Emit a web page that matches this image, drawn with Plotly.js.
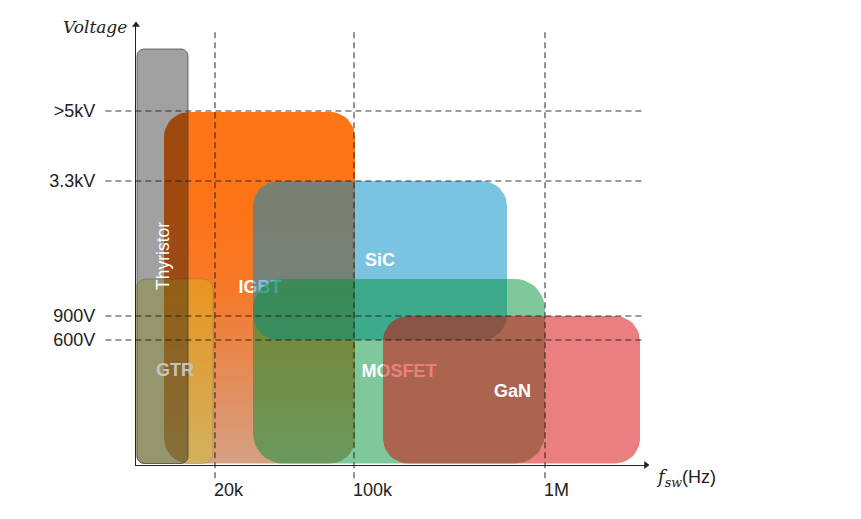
<!DOCTYPE html>
<html>
<head>
<meta charset="utf-8">
<script src="https://cdn.plot.ly/plotly-3.0.1.min.js"></script>
<style>html,body{margin:0;padding:0;background:#fff;}#chart{width:861px;height:519px;}</style>
</head>
<body>
<div id="chart"></div>
<script>
// ---- data (schematic units: switching-frequency position, voltage position) ----
const devices   = ['IGBT', 'GTR', 'Thyristor', 'SiC', 'MOSFET', 'GaN'];
const freqFrom  = [2.8, 0.0, 0.1, 11.7, 11.7, 24.7];
const freqTo    = [21.9, 7.7, 5.2, 37.1, 40.9, 50.4];
const voltFrom  = [0.15, 0.15, 0.15, 12.5, 0.15, 0.15];
const voltTo    = [35.3, 18.6, 41.6, 28.4, 18.6, 14.9];

const freqTickPos    = [7.9, 21.8, 40.9];
const freqTickLabels = ['20k', '100k', '1M'];
const voltTickPos    = [12.5, 14.9, 28.4, 35.4];
const voltTickLabels = ['600V', '900V', '3.3kV', '>5kV'];

const labelX = [12.4, 3.9, 2.7, 24.4, 26.3, 37.6];
const labelY = [17.7, 9.5, 20.9, 20.5, 9.3, 7.4];

// axis extents (schematic units)
const freqMax = 51, voltMax = 44;

// ---- styles ----
const radius = [2.5, 1.0, 0.7, 2.5, 3.0, 2.5];
const fills = [null, 'rgba(206,206,26,0.35)', 'rgba(0,0,0,0.37)', 'rgba(0,140,198,0.52)', 'rgba(0,145,55,0.5)', 'rgba(215,0,0,0.5)'];
const borders = ['rgba(0,0,0,0)', 'rgba(110,110,70,0.35)', 'rgba(60,60,60,0.7)', 'rgba(0,0,0,0)', 'rgba(0,0,0,0)', 'rgba(0,0,0,0)'];

function roundRect(x0, x1, y0, y1, r) {
  const xs = [], ys = [], n = 10;
  const corners = [[x1 - r, y1 - r, 0], [x0 + r, y1 - r, 90], [x0 + r, y0 + r, 180], [x1 - r, y0 + r, 270]];
  corners.forEach(([cx, cy, a0]) => {
    for (let i = 0; i <= n; i++) {
      const a = (a0 + i * 90 / n) * Math.PI / 180;
      xs.push(cx + r * Math.cos(a));
      ys.push(cy + r * Math.sin(a));
    }
  });
  xs.push(xs[0]); ys.push(ys[0]);
  return {xs, ys};
}

function boxTrace(i) {
  const p = roundRect(freqFrom[i], freqTo[i], voltFrom[i], voltTo[i], radius[i]);
  const t = {
    type: 'scatter', mode: 'lines', x: p.xs, y: p.ys, fill: 'toself',
    line: {color: borders[i], width: borders[i].endsWith(',0)') ? 0 : 1},
    hoverinfo: 'skip', showlegend: false, name: devices[i]
  };
  if (fills[i]) {
    t.fillcolor = fills[i];
  } else {
    t.fillcolor = 'rgb(254,116,22)';
    t.fillgradient = {
      type: 'vertical', start: voltFrom[i], stop: voltTo[i],
      colorscale: [[0, 'rgb(214,160,132)'], [0.25, 'rgb(228,140,88)'], [0.5, 'rgb(246,120,40)'], [0.7, 'rgb(253,116,24)'], [1, 'rgb(254,116,22)']]
    };
  }
  return t;
}

function labelTrace(i, color) {
  return {
    type: 'scatter', mode: 'text', x: [labelX[i]], y: [labelY[i]], text: [devices[i]],
    textposition: 'middle center', cliponaxis: false,
    textfont: {family: 'Liberation Sans, Arial, sans-serif', size: 18, color: color, weight: 'bold'},
    hoverinfo: 'skip', showlegend: false
  };
}

const idx = n => devices.indexOf(n);
const data = [
  boxTrace(idx('IGBT')),
  boxTrace(idx('GTR')),
  boxTrace(idx('Thyristor')),
  labelTrace(idx('IGBT'), '#ffffff'),
  boxTrace(idx('SiC')),
  boxTrace(idx('MOSFET')),
  labelTrace(idx('MOSFET'), '#ffffff'),
  boxTrace(idx('GaN')),
  // arrowheads at the ends of the axes
  {type: 'scatter', mode: 'markers', x: [0, freqMax], y: [voltMax, 0], cliponaxis: false,
   marker: {symbol: ['triangle-up', 'triangle-right'], size: 7, color: '#222'}, hoverinfo: 'skip', showlegend: false}
];

const dashCol = 'rgba(25,25,25,0.85)';
const shapes = [];
voltTickPos.forEach(v => shapes.push({type: 'line', layer: 'above', xref: 'paper', yref: 'y', x0: -0.06, x1: 0.998, y0: v, y1: v, line: {color: dashCol, width: 1.1, dash: '6px,4px'}}));
freqTickPos.forEach(f => shapes.push({type: 'line', layer: 'above', xref: 'x', yref: 'paper', x0: f, x1: f, y0: -0.03, y1: 0.99, line: {color: dashCol, width: 1.1, dash: '6px,4px'}}));

const sansFont = 'Liberation Sans, Arial, sans-serif';
const annotations = [
  // axis titles
  {xref: 'paper', yref: 'paper', x: -0.014, y: 0.995, xanchor: 'right', yanchor: 'middle', showarrow: false,
   text: '<i>Voltage</i>', font: {family: 'DejaVu Serif, serif', size: 17, color: '#222'}},
  {xref: 'paper', yref: 'paper', x: 1.015, y: -0.03, xanchor: 'left', yanchor: 'middle', showarrow: false,
   text: '<span style="font-family:\'DejaVu Serif\',serif"><i>f</i><sub><i>sw</i></sub></span>(Hz)', font: {family: sansFont, size: 18, color: '#222'}},
  // device labels drawn on top
  {x: labelX[idx('SiC')], y: labelY[idx('SiC')], xref: 'x', yref: 'y', text: 'SiC', showarrow: false, font: {family: sansFont, size: 18, color: '#fff', weight: 'bold'}},
  {x: labelX[idx('GaN')], y: labelY[idx('GaN')], xref: 'x', yref: 'y', text: 'GaN', showarrow: false, font: {family: sansFont, size: 18, color: '#fff', weight: 'bold'}},
  {x: labelX[idx('GTR')], y: labelY[idx('GTR')], xref: 'x', yref: 'y', text: 'GTR', showarrow: false, font: {family: sansFont, size: 18, color: 'rgb(196,196,186)', weight: 'bold'}},
  {x: labelX[idx('Thyristor')], y: labelY[idx('Thyristor')], xref: 'x', yref: 'y', text: 'Thyristor', textangle: -90, showarrow: false, font: {family: sansFont, size: 17.5, color: '#fff'}}
];
freqTickPos.forEach((f, i) => annotations.push({x: f, y: -0.03, xref: 'x', yref: 'paper', xanchor: 'left', yanchor: 'top', xshift: -3, showarrow: false, text: freqTickLabels[i], font: {family: sansFont, size: 18, color: '#222'}}));

const layout = {
  width: 861, height: 519,
  margin: {l: 136, r: 215, t: 25, b: 54},
  paper_bgcolor: '#fff', plot_bgcolor: '#fff',
  showlegend: false,
  xaxis: {range: [0, freqMax], showgrid: false, zeroline: false, showline: true, linecolor: '#222', linewidth: 1.2,
          showticklabels: false, ticks: '', fixedrange: true},
  yaxis: {range: [0, voltMax], showgrid: false, zeroline: false, showline: true, linecolor: '#222', linewidth: 1.2, ticks: '',
          tickmode: 'array', tickvals: voltTickPos, ticktext: voltTickLabels, ticklabelstandoff: 36,
          tickfont: {family: sansFont, size: 18, color: '#222'}, fixedrange: true},
  shapes: shapes,
  annotations: annotations
};

Plotly.newPlot('chart', data, layout, {staticPlot: true, displayModeBar: false});
</script>
</body>
</html>
